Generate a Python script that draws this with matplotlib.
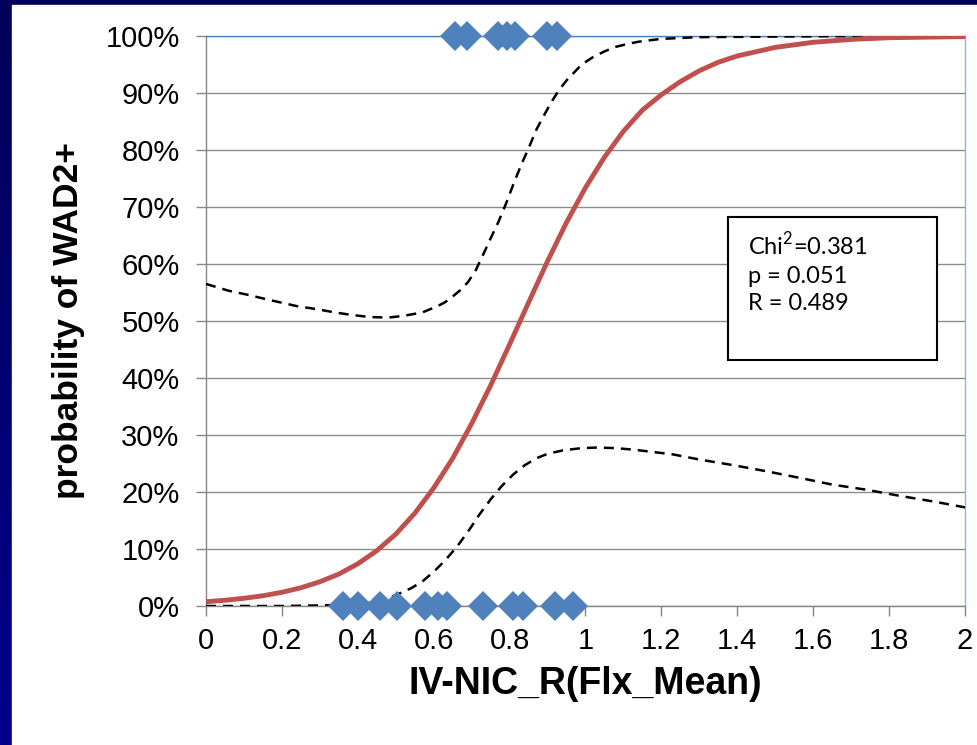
import numpy as np
import matplotlib
matplotlib.use('Agg')
import matplotlib.pyplot as plt
from matplotlib.patches import Rectangle

# data
ticks_x = [0, 0.2, 0.4, 0.6, 0.8, 1.0, 1.2, 1.4, 1.6, 1.8, 2.0]
ticks_x_labels = ['0', '0.2', '0.4', '0.6', '0.8', '1', '1.2', '1.4', '1.6', '1.8', '2']
ticks_y = [0, 0.1, 0.2, 0.3, 0.4, 0.5, 0.6, 0.7, 0.8, 0.9, 1.0]
ticks_y_labels = ['0%', '10%', '20%', '30%', '40%', '50%', '60%', '70%', '80%', '90%', '100%']

# observed cases (0 = no WAD2+, 1 = WAD2+)
obs_neg_x = [0.361, 0.400, 0.458, 0.503, 0.577, 0.611, 0.635, 0.730, 0.809, 0.835, 0.920, 0.967]
obs_pos_x = [0.656, 0.688, 0.769, 0.793, 0.814, 0.899, 0.925]

# fitted probability
fit_x = [0, 0.05, 0.1, 0.15, 0.2, 0.25, 0.3, 0.35, 0.4, 0.45, 0.5, 0.55, 0.6, 0.65, 0.7,
         0.75, 0.8, 0.85, 0.9, 0.95, 1.0, 1.05, 1.1, 1.15, 1.2, 1.25, 1.3, 1.35, 1.4,
         1.5, 1.6, 1.7, 1.8, 1.9, 2.0]
fit_y = [0.0075, 0.0101, 0.0135, 0.018, 0.024, 0.032, 0.0425, 0.056, 0.074, 0.097,
         0.126, 0.1625, 0.207, 0.259, 0.320, 0.387, 0.459, 0.5325, 0.605, 0.673, 0.734,
         0.7875, 0.833, 0.870, 0.897, 0.920, 0.939, 0.954, 0.965, 0.980, 0.989, 0.994,
         0.997, 0.998, 0.999]

# confidence band
up_x = [0, 0.06, 0.11, 0.16, 0.2, 0.24, 0.29, 0.34, 0.38, 0.43, 0.48, 0.52, 0.57, 0.61,
        0.63, 0.65, 0.67, 0.69, 0.71, 0.73, 0.75, 0.77, 0.79, 0.81, 0.83, 0.85, 0.87,
        0.89, 0.91, 0.93, 0.95, 0.97, 0.99, 1.02, 1.05, 1.08, 1.11, 1.14, 1.2, 1.3,
        1.5, 1.75, 2.0]
up_y = [0.565, 0.553, 0.546, 0.538, 0.532, 0.526, 0.521, 0.515, 0.511, 0.507, 0.506,
        0.509, 0.515, 0.526, 0.533, 0.543, 0.554, 0.568, 0.588, 0.616, 0.645, 0.673,
        0.705, 0.740, 0.773, 0.803, 0.835, 0.860, 0.884, 0.905, 0.922, 0.936, 0.950,
        0.963, 0.973, 0.981, 0.986, 0.990, 0.995, 0.998, 0.999, 1.0, 1.0]
lo_x = [0, 0.1, 0.2, 0.3, 0.35, 0.39, 0.42, 0.45, 0.48, 0.51, 0.54, 0.57, 0.6, 0.63,
        0.66, 0.69, 0.72, 0.75, 0.78, 0.81, 0.84, 0.87, 0.9, 0.94, 0.99, 1.03, 1.08,
        1.13, 1.18, 1.23, 1.3, 1.39, 1.48, 1.57, 1.65, 1.74, 1.83, 1.92, 2.0]
lo_y = [0, 0, 0, 0.001, 0.002, 0.003, 0.005, 0.009, 0.014, 0.022, 0.031, 0.043, 0.060,
        0.080, 0.103, 0.130, 0.160, 0.187, 0.211, 0.231, 0.247, 0.259, 0.267, 0.273,
        0.277, 0.278, 0.277, 0.274, 0.270, 0.266, 0.257, 0.247, 0.236, 0.224, 0.213,
        0.204, 0.193, 0.183, 0.173]

stats_lines = ['Chi$^2$=0.381', 'p = 0.051', 'R = 0.489']

plt.rcParams['font.family'] = ['Liberation Sans', 'DejaVu Sans']
plt.rcParams['mathtext.fontset'] = 'custom'
plt.rcParams['mathtext.rm'] = 'Lato'

fig = plt.figure(figsize=(9.78, 7.45), dpi=100)

# slide background: navy frame with a white panel
bg = fig.add_axes([0, 0, 1, 1], zorder=-10)
grad = np.linspace(0, 1, 256).reshape(-1, 1)
bg.imshow(grad, aspect='auto', extent=[0, 1, 0, 1], origin='upper',
          cmap=matplotlib.colors.LinearSegmentedColormap.from_list('bg', ['#000058', '#00008c']))
bg.add_patch(Rectangle((12 / 978, 0), 1, 1 - 5 / 745, color='white', zorder=2))
bg.set_xlim(0, 1)
bg.set_ylim(0, 1)
bg.axis('off')

ax = fig.add_axes([206 / 978, 139 / 745, 759 / 978, 570 / 745])
ax.set_facecolor('white')

ax.plot(up_x, up_y, color='black', lw=1.8, dashes=(4, 2.8), zorder=3)
ax.plot(lo_x, lo_y, color='black', lw=1.8, dashes=(4, 2.8), zorder=3)
ax.plot(fit_x, fit_y, color='#C0504D', lw=3.5, zorder=4)
ax.plot(obs_neg_x, [0] * len(obs_neg_x), 'D', color='#4F81BD', ms=15, mew=0,
        clip_on=False, zorder=5)
ax.plot(obs_pos_x, [1] * len(obs_pos_x), 'D', color='#4F81BD', ms=15, mew=0,
        clip_on=False, zorder=5)

ax.set_xlim(0, 2)
ax.set_ylim(0, 1)
ax.set_xticks(ticks_x)
ax.set_xticklabels(ticks_x_labels)
ax.set_yticks(ticks_y)
ax.set_yticklabels(ticks_y_labels)
ax.tick_params(axis='both', labelsize=21, colors='#868686', labelcolor='black',
               direction='out', length=7, width=1)
ax.tick_params(axis='y', pad=12)
ax.tick_params(axis='x', pad=8)
ax.yaxis.grid(True, color='#8c8c8c', lw=1)
ax.set_axisbelow(True)

ax.spines['left'].set_color('#868686')
ax.spines['bottom'].set_color('#868686')
ax.spines['top'].set_color('#4F81BD')
ax.spines['right'].set_color('#95B3D7')
for s in ax.spines.values():
    s.set_linewidth(1)

ax.set_xlabel('IV-NIC_R(Flx_Mean)', fontsize=27, fontweight='bold')
ax.xaxis.set_label_coords(0.5, -60 / 570)
ax.set_ylabel('probability of WAD2+', fontsize=25.5, fontweight='bold')
ax.yaxis.set_label_coords(-121 / 759, 0.5)

# statistics box
ax.add_patch(Rectangle(((728 - 206) / 759, (606 - 360) / 570), 209 / 759, 143 / 570,
                       transform=ax.transAxes, facecolor='white', edgecolor='black',
                       lw=1.5, zorder=6))
for line, base in zip(stats_lines, [255, 283, 310]):
    ax.text((748 - 206) / 759, (606 - base) / 570, line, transform=ax.transAxes,
            fontsize=17, family=['Lato', 'DejaVu Sans'], va='baseline', ha='left',
            zorder=7)

fig.savefig('out.png', dpi=100)
